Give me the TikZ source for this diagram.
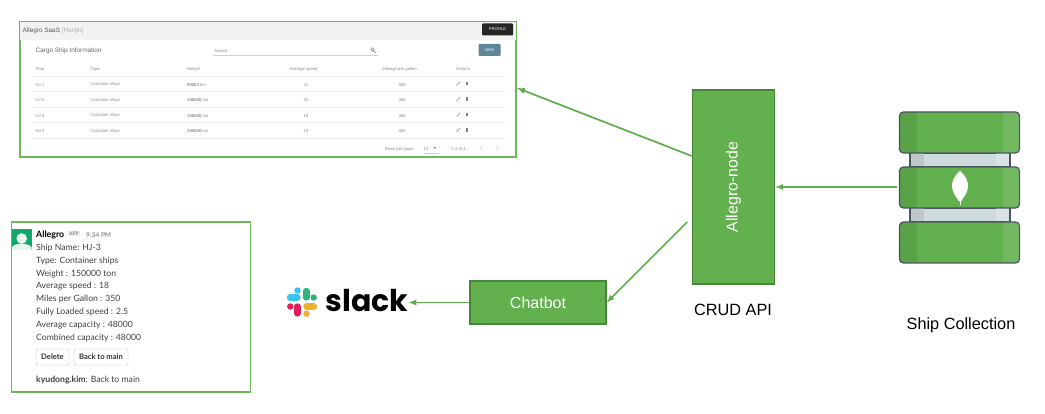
\documentclass[tikz,border=0pt]{standalone}
\usepackage{fontspec}
\setmainfont{Liberation Sans}
\newfontfamily\cardfont{Lato}
\newfontfamily\logofont{Poppins}
\usetikzlibrary{positioning,arrows,calc}
\definecolor{boxgreen}{HTML}{62B04E}
\definecolor{boxedge}{HTML}{47863A}
\definecolor{linkgreen}{HTML}{5DAE4B}
\definecolor{shotgray}{HTML}{8A8A8A}
\definecolor{dbedge}{HTML}{4B5660}
\definecolor{slackblue}{HTML}{36C5F0}
\definecolor{slackgreen}{HTML}{2EB67D}
\definecolor{slackyellow}{HTML}{ECB22E}
\definecolor{slackred}{HTML}{E01E5A}
\definecolor{newblue}{HTML}{5C8799}
\definecolor{avatargreen}{HTML}{12A86C}
\definecolor{avatarface}{HTML}{E8F6F0}
\definecolor{spacermid}{HTML}{CFDBDE}
\definecolor{spacerdark}{HTML}{BEC8CB}
\definecolor{spacerlight}{HTML}{D9E3E5}
\tikzset{block/.style={draw=boxedge,fill=boxgreen,line width=1.5pt,text=white,font=\fontsize{16}{16}\selectfont,inner sep=0pt}}
\tikzset{link/.style={-latex,draw=linkgreen,line width=1.7pt}}
\tikzset{frame/.style={draw=linkgreen!90!white,line width=1.1pt,fill=white,inner sep=0pt}}
\tikzset{caption/.style={font=\fontsize{16.3}{16}\selectfont,text=black}}
\tikzset{shot/.style={text=shotgray,font=\fontsize{4.2}{5}\selectfont,inner sep=0pt,yshift=-1.3pt}}
\tikzset{cardline/.style={anchor=west,inner sep=0pt,yshift=-1pt,text=black!75,font=\cardfont\fontsize{8.65}{10}\selectfont}}
\tikzset{cardbtn/.style={draw=black!25,rounded corners=1.5pt,fill=white,text=black!80,inner sep=0pt,font=\cardfont\bfseries\fontsize{7.6}{9}\selectfont}}
\tikzset{pill/.style={line width=6.3pt,line cap=round}}
\tikzset{dbseg/.style={draw=dbedge,line width=1.3pt,rounded corners=4pt,fill=boxgreen,minimum width=120pt,minimum height=41pt,inner sep=0pt}}

\begin{document}
\begin{tikzpicture}[x=1pt,y=-1pt]
  \useasboundingbox (0,0) rectangle (1045,414);

  % Screenshot of the web page
  \node[frame,minimum width=496pt,minimum height=135pt] (page) at (268,89.5) {};
  \fill[black!5] (20,22.5) rectangle (515.5,40);
  \node[shot,anchor=west,font=\fontsize{6.4}{7}\selectfont,text=black!65] (pagetitle) at (22.5,29.5) {Allegro SaaS \textcolor{black!30}{[Hanjin]}};
  \node[fill=black!85,text=white,rounded corners=1pt,minimum width=31pt,minimum height=12pt,inner sep=0pt,font=\fontsize{4}{4}\selectfont] (profile) at (497.5,29.5) {PROFILE};
  \node[shot,anchor=west,font=\fontsize{6.4}{7}\selectfont,text=black!60] (cargo) at (35.5,50) {Cargo Ship Information};
  \node[shot,anchor=west] (search) at (214,50) {Search};
  \draw[black!18] (213,55) -- (378,55);
  \draw[black!50,line width=0.5pt] (372.5,49.5) circle (1.7pt) (373.7,50.7) -- (376,53);
  \node[fill=newblue,text=white,rounded corners=1pt,minimum width=22pt,minimum height=12pt,inner sep=0pt,font=\fontsize{4}{4}\selectfont] (newbtn) at (489.5,50) {NEW};

  % Table head
  \node[shot,anchor=west] (hship) at (35.5,68) {Ship};
  \node[shot,anchor=west] (htype) at (90.5,68) {Type};
  \node[shot,anchor=west] (hweight) at (187,68) {Weight};
  \node[shot] (hspeed) at (303.5,68) {Average speed};
  \node[shot] (hmiles) at (399.5,68) {Mileage per gallon};
  \node[shot] (hactions) at (463,68) {Actions};
  \foreach \y in {76,91.5,107,122.5,138}
    \draw[black!6] (30,\y) -- (506,\y);

  % Table rows
  \foreach \y/\ship/\wgt/\spd/\mpg in {83.5/HJ-1/90000/11/560,99/HJ-2/100000/22/480,114.5/HJ-3/150000/18/350,130/HJ-4/100000/23/480}
  {
    \node[shot,anchor=west] at (35.5,\y) {\ship};
    \node[shot,anchor=west] at (90.5,\y) {Container ships};
    \node[shot,anchor=west] at (187,\y) {\textbf{\wgt} ton};
    \node[shot] at (306,\y) {\spd};
    \node[shot] at (402,\y) {\mpg};
    \draw[black!50,line width=0.7pt] (456.5,\y+2) -- (460,\y-1.5);
    \fill[black!50] (465.5,\y-1.5) rectangle (467.5,\y+2);
  }

  % Table footer
  \node[shot] (rowsper) at (399.5,148) {Rows per page:};
  \node[shot] (rowsnum) at (426,148) {10};
  \fill[black!50] (433.5,147) -- (436,147) -- (434.75,148.8) -- cycle;
  \draw[black!20] (424,153) -- (439,153);
  \node[shot] (pagecount) at (458.5,148) {1-4 of 4};
  \draw[black!20,line width=0.5pt] (482,146) -- (480.5,148) -- (482,150);
  \draw[black!20,line width=0.5pt] (496.5,146) -- (498,148) -- (496.5,150);

  % Slack message
  \node[frame,minimum width=239pt,minimum height=170pt] (card) at (131,307) {};
  \fill[avatargreen] (12,229) rectangle (31.5,250);
  \fill[avatarface] (21.7,238.5) circle (5.3pt);
  \fill[avatarface] (12,250) -- (12,247) .. controls (16,242.5) and (27,242.5) .. (31.5,247) -- (31.5,250) -- cycle;
  \node[cardline,text=black,font=\cardfont\bfseries\fontsize{8.8}{10}\selectfont] (sender) at (36,234) {Allegro};
  \node[fill=black!8,text=black!55,inner sep=1pt,font=\cardfont\fontsize{4.8}{5}\selectfont] (apptag) at (74,233.5) {APP};
  \node[cardline,text=black!55,font=\cardfont\fontsize{6.6}{7}\selectfont] (sendtime) at (86,234.5) {9:34 PM};
  \node[cardline] (l1) at (36,247) {Ship Name: HJ-3};
  \node[cardline] (l2) at (36,260) {Type: Container ships};
  \node[cardline] (l3) at (36,272.7) {Weight : 150000 ton};
  \node[cardline] (l4) at (36,285.5) {Average speed : 18};
  \node[cardline] (l5) at (36,298.3) {Miles per Gallon : 350};
  \node[cardline] (l6) at (36,311) {Fully Loaded speed : 2.5};
  \node[cardline] (l7) at (36,324) {Average capacity : 48000};
  \node[cardline] (l8) at (36,337) {Combined capacity : 48000};
  \node[cardbtn,minimum width=33pt,minimum height=16pt] (delbtn) at (52.5,357) {Delete};
  \node[cardbtn,minimum width=54pt,minimum height=16pt] (backbtn) at (101,357) {Back to main};
  \node[cardline] (reply) at (36,379.5) {\textbf{kyudong.kim}: Back to main};

  % Slack logo
  \draw[pill,draw=slackblue] (290,297.5) -- (297.5,297.5);
  \fill[slackblue] (297.5,290.5) circle (3.2pt);
  \draw[pill,draw=slackgreen] (306.5,291) -- (306.5,297.5);
  \fill[slackgreen] (313.7,297.5) circle (3.2pt);
  \draw[pill,draw=slackyellow] (306.5,306.5) -- (314,306.5);
  \fill[slackyellow] (306.5,313.7) circle (3.2pt);
  \draw[pill,draw=slackred] (297.5,306.5) -- (297.5,313.5);
  \fill[slackred] (290.3,306.5) circle (3.2pt);
  \node[inner sep=0pt,text=black,font=\logofont\bfseries\fontsize{30}{30}\selectfont] (slack) at (367,301) {slack};

  % Green blocks
  \node[block,minimum width=136pt,minimum height=43pt] (chatbot) at (538,302.5) {Chatbot};
  \node[block,minimum width=82pt,minimum height=194pt] (allegro) at (733.5,187) {\rotatebox{90}{Allegro-node}};
  \node[caption] (crud) at (733,310) {CRUD API};
  \node[caption] (shipcol) at (961,325) {Ship Collection};

  % Database
  \foreach \y in {160,215}
  {
    \draw[dbedge,line width=1.3pt,fill=spacermid] (910,\y-7) rectangle (1010,\y+7);
    \fill[spacerdark] (910.7,\y-6.5) rectangle (924,\y+6.5);
    \fill[spacerlight] (996,\y-6.5) rectangle (1009.3,\y+6.5);
  }
  \foreach \y/\n in {132.5/dbtop,187.5/dbmid,242.5/dbbot}
  {
    \node[dbseg] (\n) at (959.5,\y) {};
    \fill[black,opacity=0.08,rounded corners=3.5pt] (899.7,\y-20) rectangle (917,\y+20);
    \fill[white,opacity=0.1,rounded corners=3.5pt] (1003,\y-20) rectangle (1019.3,\y+20);
  }
  \fill[white] (960,171) .. controls (966,176) and (968.5,182) .. (968,187) .. controls (967.5,193) and (963,198) .. (961,201.5) -- (959,201.5) .. controls (957,198) and (952.5,193) .. (952,187) .. controls (951.5,182) and (954,176) .. (960,171) -- cycle;
  \draw[white,line width=1pt] (960,190) -- (960,205);

  % Connectors
  \coordinate (allegroleft) at ($(allegro.west)+(0,-31)$);
  \coordinate (allegrolow) at ($(allegro.west)+(-4.5,35)$);
  \coordinate (pagein) at ($(page.east)+(0.5,-1.5)$);
  \coordinate (dbout) at ($(dbmid.west |- allegro.east)+(-2,0)$);
  \coordinate (slackin) at (slack.east |- chatbot.west);
  \draw[link] (allegroleft) -- (pagein);
  \draw[link] (allegrolow) -- (chatbot.east);
  \draw[link] (dbout) -- (allegro.east);
  \draw[link] (chatbot.west) -- (slackin);

\end{tikzpicture}
\end{document}
